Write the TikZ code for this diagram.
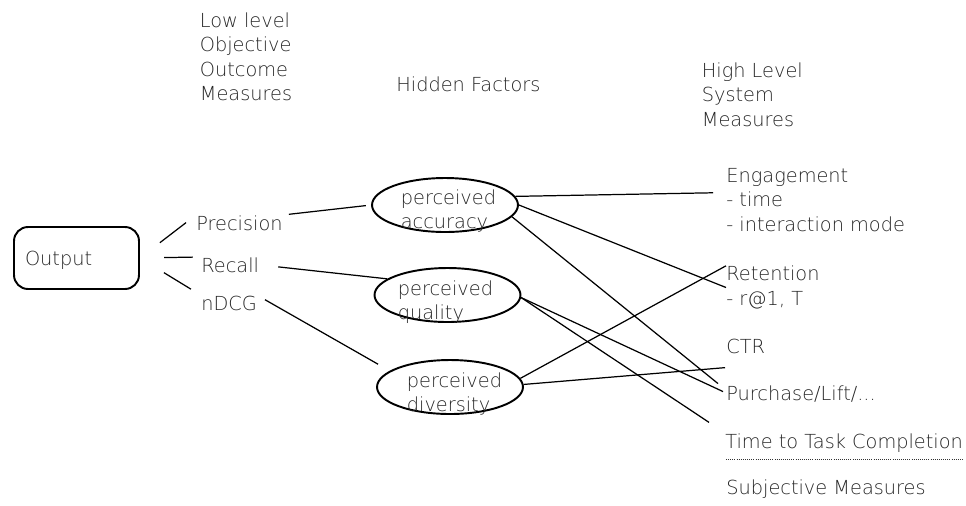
\documentclass[tikz,border=0pt]{standalone}
\usepackage{fontspec}
\setmainfont{DejaVu Sans ExtraLight}
\usetikzlibrary{shapes.geometric,calc}

\begin{document}
\begin{tikzpicture}[x=0.02cm,y=-0.02cm,
    every node/.style={inner sep=0pt,text=black!85,font=\fontsize{11}{13.9}\selectfont},
    txt/.style={anchor=north west,align=left},
    lbl/.style={anchor=base west},
    factor/.style={draw,ellipse,line width=1.1pt,minimum width=2.92cm,minimum height=1.08cm},
    link/.style={line width=0.7pt}]
  \useasboundingbox (0,0) rectangle (966,505);
  \node[draw,rounded corners=0.28cm,line width=1.1pt,minimum width=2.5cm,
    minimum height=1.24cm,text width=2.06cm,text depth=0pt,align=left,
    inner xsep=0.22cm] (out) at (76.5,258) {Output};
  \node[txt] (low) at (199.5,12.4) {Low level\\Objective\\Outcome\\Measures};
  \node[lbl] (hid) at (396,91) {Hidden Factors};
  \node[txt] (high) at (701.5,62.4) {High Level\\System\\Measures};
  \node[lbl] (prec) at (196,230) {Precision};
  \node[lbl] (rec) at (201,272) {Recall};
  \node[lbl] (ndcg) at (201,310) {nDCG};
  \node[factor] (acc) at (445,205) {};
  \node[factor] (qual) at (447.5,295) {};
  \node[factor] (div) at (450,387) {};
  \node[txt] (acctxt) at (400.5,189.4) {perceived\\accuracy};
  \node[txt] (qualtxt) at (397.5,280.4) {perceived\\quality};
  \node[txt] (divtxt) at (406.5,372.4) {perceived\\diversity};
  \node[txt] (eng) at (726,167.8) {Engagement\\- time\\- interaction mode};
  \node[txt] (ret) at (726,265.8) {Retention\\- r@1, T};
  \node[lbl] (ctr) at (726,353) {CTR};
  \node[lbl] (pur) at (726,400) {Purchase/Lift/...};
  \node[lbl] (time) at (725,448) {Time to Task Completion};
  \node[lbl] (subj) at (726,494) {Subjective Measures};
  \draw[link,shorten <=14.3pt,shorten >=7.1pt] (out.east) -- (prec.north west);
  \draw[link,shorten <=13.7pt,shorten >=4.6pt] (out.east) -- (rec.north west);
  \draw[link,shorten <=16pt,shorten >=6.7pt] (out.east) -- (ndcg.north west);
  \draw[link,shorten <=3.4pt,shorten >=3pt] (prec.north east) -- (acc.west);
  \draw[link,shorten <=10.8pt] (rec.east) -- (qual.165);
  \draw[link,shorten <=5pt,shorten >=7.6pt] (ndcg.north east) -- (div.165);
  \draw[link] (acc.7) -- ($(eng.west)+(-13,-7)$);
  \draw[link] (acc.east) -- (ret.west);
  \draw[link] (acc.-10) -- ($(pur.west)+(-8,-10)$);
  \draw[link] (qual.-2) -- ($(pur.west)+(-3,-2)$);
  \draw[link,shorten >=10.9pt] (qual.-2) -- (time.north west);
  \draw[link] (div.7) -- (ret.north west);
  \draw[link] (div.2) -- ($(ctr.south west)+(-1,14)$);
  \draw[black!80,line width=0.4pt,dash pattern=on 0.5pt off 0.7pt]
    ($(time.south west)+(1,7)$) -- ($(time.south east)+(0,7)$);
\end{tikzpicture}
\end{document}
